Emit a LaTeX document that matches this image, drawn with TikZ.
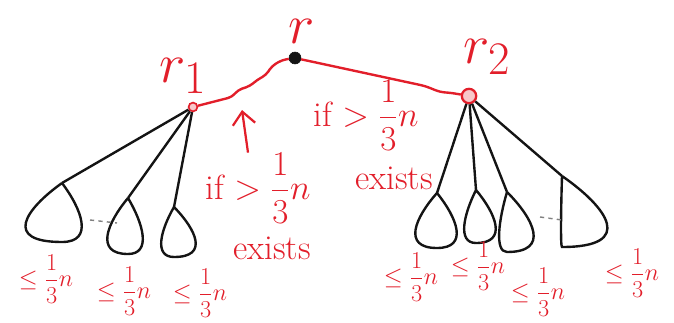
\documentclass[tikz,border=0pt]{standalone}
\usepackage{amsmath}
\usepackage{xcolor}
\usepackage{tikz}
\usetikzlibrary{arrows.meta,positioning,calc}
\definecolor{clrInk}{RGB}{226,30,42}
\definecolor{clrPen}{RGB}{20,20,20}
\newcommand{\leafdrop}[4]{%
  \draw[leaf] (#1) .. controls +(-#2,0.45*#4) and +(-1.6*#2,0) .. ++(0,#4)
    .. controls +(1.6*#3,0) and +(#3,0.45*#4) .. (#1);}
\tikzset{
  root/.style={circle,draw=clrPen,fill=clrPen,inner sep=0pt,minimum size=0.3cm},
  hub/.style={circle,draw=clrInk,fill=clrInk!25,line width=1.2pt,inner sep=0pt,minimum size=0.22cm},
  rlabel/.style={text=clrInk,font=\Huge,scale=1.6,inner sep=0pt},
  cond/.style={text=clrInk,font=\Huge,inner sep=0pt},
  bound/.style={text=clrInk,font=\LARGE,inner sep=0pt},
  tie/.style={draw=clrInk,line width=1.7pt,rounded corners=3pt},
  twig/.style={draw=clrPen,line width=1.7pt},
  leaf/.style={draw=clrPen,line width=1.7pt},
  gap/.style={draw=gray,dashed,line width=1pt},
  pointer/.style={-{Straight Barb[length=9pt,width=16pt]},draw=clrInk,line width=1.6pt}
}
\begin{document}
\begin{tikzpicture}[x=0.025cm,y=-0.025cm]
  \useasboundingbox (0,0) rectangle (674,322);
  % root and the two heavy children
  \node[root] (r) at (295,58) {};
  \node[hub] (r1) at (193,107) {};
  \node[hub,minimum size=0.36cm,line width=1.6pt] (r2) at (469,96) {};
  \node[rlabel] (rl) at (302,31) {$r$};
  \node[rlabel] (r1l) at (183,76) {$r_1$};
  \node[rlabel] (r2l) at (487,57) {$r_2$};
  \draw[tie] (r1) -- (232,97) -- (238,90) -- (250,86) -- (257,80) -- (266,75)
    -- (272,66) -- (282,60) -- (r);
  \draw[tie] (r) -- (360,72) -- (425,86) -- (440,92) -- (452,93) -- (r2);
  % subtrees below r1 and r2
  \coordinate (a1) at (62,183);
  \coordinate (a2) at (128,198);
  \coordinate (a3) at (174,207);
  \coordinate (b1) at (437,193);
  \coordinate (b2) at (476,190);
  \coordinate (b3) at (507,192);
  \coordinate (b4) at (562,176);
  \draw[twig] (r1) -- (a1);
  \draw[twig] (r1) -- (a2);
  \draw[twig] (r1) -- (a3);
  \draw[twig] (r2) -- (b1);
  \draw[twig] (r2) -- (b2);
  \draw[twig] (r2) -- (b3);
  \draw[twig] (r2) -- (b4);
  \leafdrop{a1}{37}{20}{59}
  \leafdrop{a2}{21}{15}{56}
  \leafdrop{a3}{13}{22}{50}
  \leafdrop{b1}{22}{20}{55}
  \leafdrop{b2}{12}{20}{53}
  \leafdrop{b3}{8}{27}{60}
  \leafdrop{b4}{1}{46}{71}
  \draw[gap] (90,220) -- (117,223);
  \draw[gap] (540,217) -- (562,220);
  % conditions
  \node[cond] (c1) at (258,188) {if $>\dfrac{1}{3}n$};
  \node[cond] (e1) at (272,248) {exists};
  \node[cond] (c2) at (366,115) {if $>\dfrac{1}{3}n$};
  \node[cond] (e2) at (394,178) {exists};
  \coordinate (hit) at (242,110);
  \draw[pointer] ($(c1.north)+(-10,0)$) -- (hit);
  % subtree sizes
  \node[bound] (l1) at (46,279) {$\le\dfrac{1}{3}n$};
  \node[bound] (l2) at (124,291) {$\le\dfrac{1}{3}n$};
  \node[bound] (l3) at (200,293) {$\le\dfrac{1}{3}n$};
  \node[bound] (m1) at (411,277) {$\le\dfrac{1}{3}n$};
  \node[bound] (m2) at (478,266) {$\le\dfrac{1}{3}n$};
  \node[bound] (m3) at (538,292) {$\le\dfrac{1}{3}n$};
  \node[bound] (m4) at (632,273) {$\le\dfrac{1}{3}n$};
\end{tikzpicture}
\end{document}
